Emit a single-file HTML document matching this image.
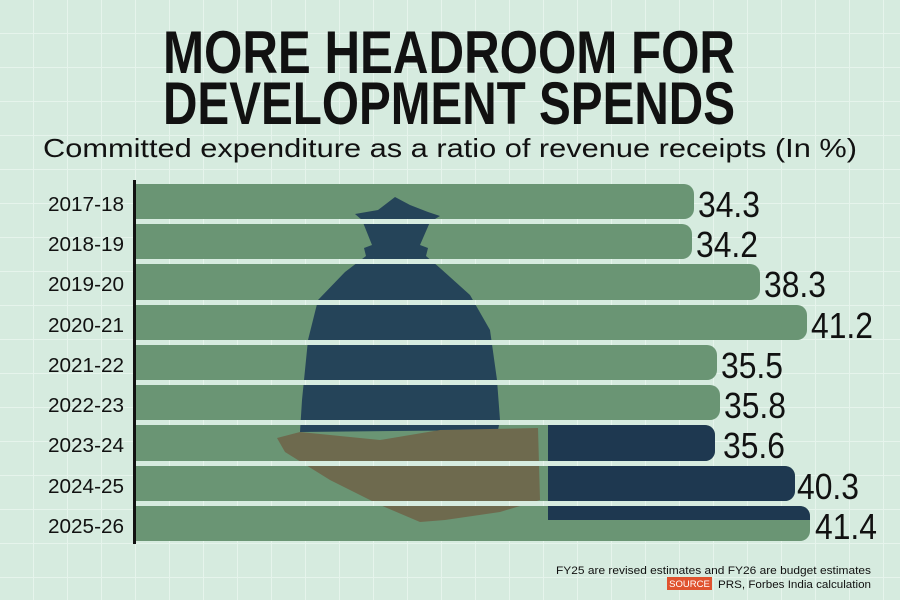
<!DOCTYPE html>
<html><head><meta charset="utf-8"><style>
body{margin:0;width:900px;height:600px;overflow:hidden;background:#d6ebdf;}
svg{display:block}
</style></head><body>
<svg width="900" height="600" viewBox="0 0 900 600" xmlns="http://www.w3.org/2000/svg">
<defs>
<pattern id="g" width="34" height="34" patternUnits="userSpaceOnUse">
<path d="M34 0V34M0 34H34" stroke="#e6f4ec" stroke-width="2" fill="none"/>
</pattern>
<clipPath id="bars">
<rect x="136" y="184" width="700" height="35"/>
<rect x="136" y="224" width="700" height="35"/>
<rect x="136" y="264" width="700" height="36"/>
<rect x="136" y="305" width="700" height="35"/>
<rect x="136" y="345" width="700" height="35"/>
<rect x="136" y="385" width="700" height="35"/>
<rect x="136" y="425" width="700" height="36"/>
<rect x="136" y="466" width="700" height="35"/>
<rect x="136" y="506" width="700" height="35"/>
</clipPath>
</defs>
<rect width="900" height="600" fill="#d6ebdf"/>
<rect width="900" height="600" fill="url(#g)"/>
<g font-family="'Liberation Sans',sans-serif" fill="#111" font-weight="bold">
<text x="163" y="73" font-size="60" textLength="572" lengthAdjust="spacingAndGlyphs">MORE HEADROOM FOR</text>
<text x="163" y="124" font-size="60" textLength="572" lengthAdjust="spacingAndGlyphs">DEVELOPMENT SPENDS</text>
</g>
<text x="43" y="157" font-family="'Liberation Sans',sans-serif" font-size="26" textLength="814" lengthAdjust="spacingAndGlyphs" fill="#111">Committed expenditure as a ratio of revenue receipts (In %)</text>
<g fill="#6a9574">
<path d="M136 184H684a10 10 0 0 1 10 10V209a10 10 0 0 1-10 10H136Z"/>
<path d="M136 224H682a10 10 0 0 1 10 10V249a10 10 0 0 1-10 10H136Z"/>
<path d="M136 264H750a10 10 0 0 1 10 10V290a10 10 0 0 1-10 10H136Z"/>
<path d="M136 305H797a10 10 0 0 1 10 10V330a10 10 0 0 1-10 10H136Z"/>
<path d="M136 345H707a10 10 0 0 1 10 10V370a10 10 0 0 1-10 10H136Z"/>
<path d="M136 385H710a10 10 0 0 1 10 10V410a10 10 0 0 1-10 10H136Z"/>
<path d="M136 425H705a10 10 0 0 1 10 10V451a10 10 0 0 1-10 10H136Z"/>
<path d="M136 466H785a10 10 0 0 1 10 10V491a10 10 0 0 1-10 10H136Z"/>
<path d="M136 506H800a10 10 0 0 1 10 10V531a10 10 0 0 1-10 10H136Z"/>
</g>
<g clip-path="url(#bars)">
<path d="M395 197L410 205L428 212L440 216L430 222L420 245L428 248L426 256L440 268L470 295L490 330L497 380L500 420L498 430L300 432L302 400L308 340L318 300L345 272L366 256L364 248L372 245L362 220L355 214L378 210Z" fill="#223f57" opacity="0.95"/>
<path d="M277 438L300 432L380 440L440 430L538 428L540 500L500 512L445 520L420 522L380 505L330 480L285 452Z" fill="#6e6a4e"/>
<path d="M548 425H705a10 10 0 0 1 10 10V451a10 10 0 0 1-10 10H548Z" fill="#1e3850"/>
<path d="M548 466H785a10 10 0 0 1 10 10V491a10 10 0 0 1-10 10H548Z" fill="#1e3850"/>
<path d="M548 506H800a10 10 0 0 1 10 10V520H548Z" fill="#1e3850"/>
</g>
<rect x="133" y="180" width="3" height="364" fill="#111"/>
<g font-family="'Liberation Sans',sans-serif" font-size="20" fill="#111" lengthAdjust="spacingAndGlyphs">
<text x="48" y="211" textLength="76" lengthAdjust="spacingAndGlyphs">2017-18</text>
<text x="48" y="251" textLength="76" lengthAdjust="spacingAndGlyphs">2018-19</text>
<text x="48" y="291" textLength="76" lengthAdjust="spacingAndGlyphs">2019-20</text>
<text x="48" y="332" textLength="76" lengthAdjust="spacingAndGlyphs">2020-21</text>
<text x="48" y="372" textLength="76" lengthAdjust="spacingAndGlyphs">2021-22</text>
<text x="48" y="412" textLength="76" lengthAdjust="spacingAndGlyphs">2022-23</text>
<text x="48" y="452" textLength="76" lengthAdjust="spacingAndGlyphs">2023-24</text>
<text x="48" y="493" textLength="76" lengthAdjust="spacingAndGlyphs">2024-25</text>
<text x="48" y="533" textLength="76" lengthAdjust="spacingAndGlyphs">2025-26</text>
</g>
<g font-family="'Liberation Sans',sans-serif" font-size="36" fill="#111">
<text x="698" y="217" textLength="62" lengthAdjust="spacingAndGlyphs">34.3</text>
<text x="696" y="257" textLength="62" lengthAdjust="spacingAndGlyphs">34.2</text>
<text x="764" y="297" textLength="62" lengthAdjust="spacingAndGlyphs">38.3</text>
<text x="811" y="338" textLength="62" lengthAdjust="spacingAndGlyphs">41.2</text>
<text x="721" y="378" textLength="62" lengthAdjust="spacingAndGlyphs">35.5</text>
<text x="724" y="418" textLength="62" lengthAdjust="spacingAndGlyphs">35.8</text>
<text x="723" y="458" textLength="62" lengthAdjust="spacingAndGlyphs">35.6</text>
<text x="797" y="499" textLength="62" lengthAdjust="spacingAndGlyphs">40.3</text>
<text x="815" y="539" textLength="62" lengthAdjust="spacingAndGlyphs">41.4</text>
</g>
<text x="556" y="574" font-family="'Liberation Sans',sans-serif" font-size="11" textLength="315" lengthAdjust="spacingAndGlyphs" fill="#111">FY25 are revised estimates and FY26 are budget estimates</text>
<rect x="667" y="577" width="45" height="13" fill="#e0532f"/>
<text x="689.5" y="587" font-family="'Liberation Sans',sans-serif" font-size="9.5" text-anchor="middle" fill="#fff">SOURCE</text>
<text x="718" y="588" font-family="'Liberation Sans',sans-serif" font-size="11" textLength="153" lengthAdjust="spacingAndGlyphs" fill="#111">PRS, Forbes India calculation</text>
</svg>
</body></html>
